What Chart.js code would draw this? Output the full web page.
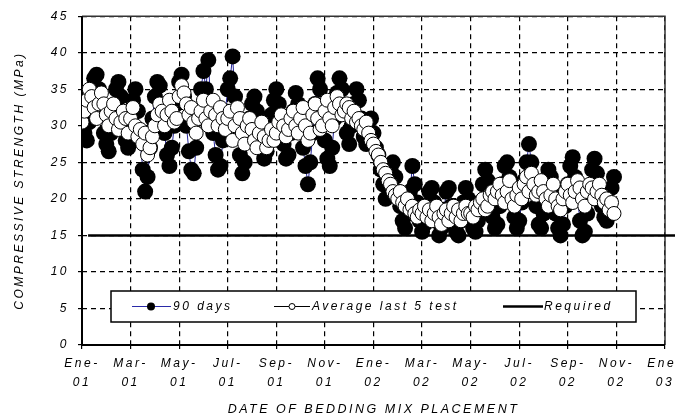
<!doctype html>
<html>
<head>
    <title>Compressive strength</title>
    <script src="https://cdn.jsdelivr.net/npm/chart.js@4.4.1/dist/chart.umd.min.js"></script>
    <style>
    body{ margin:0; background:#fff; }
    #holder{ width:675px; height:420px; }
    </style>
</head>
<body>
<div id="holder"><canvas id="chart-area"></canvas></div>
<script>
// test dates, in months since Ene-01 (about three tests a week)
var testMonths = [
    0,0.1,0.2,0.3,0.4,0.5,0.6,0.7,0.8,0.9,
    1,1.1,1.2,1.3,1.4,1.5,1.6,1.7,1.8,1.9,
    2,2.1,2.2,2.3,2.4,2.5,2.6,2.7,2.8,2.9,
    3,3.1,3.2,3.3,3.4,3.5,3.6,3.7,3.8,3.9,
    4,4.1,4.2,4.3,4.4,4.5,4.6,4.7,4.8,4.9,
    5,5.1,5.2,5.3,5.4,5.5,5.6,5.7,5.8,5.9,
    6,6.1,6.2,6.3,6.4,6.5,6.6,6.7,6.8,6.9,
    7,7.1,7.2,7.3,7.4,7.5,7.6,7.7,7.8,7.9,
    8,8.1,8.2,8.3,8.4,8.5,8.6,8.7,8.8,8.9,
    9,9.1,9.2,9.3,9.4,9.5,9.6,9.7,9.8,9.9,
    10,10.1,10.2,10.3,10.4,10.5,10.6,10.7,10.8,10.9,
    11,11.1,11.2,11.3,11.4,11.5,11.6,11.7,11.8,11.9,
    12,12.1,12.2,12.3,12.4,12.5,12.6,12.7,12.8,12.9,
    13,13.1,13.2,13.3,13.4,13.5,13.6,13.7,13.8,13.9,
    14,14.1,14.2,14.3,14.4,14.5,14.6,14.7,14.8,14.9,
    15,15.1,15.2,15.3,15.4,15.5,15.6,15.7,15.8,15.9,
    16,16.1,16.2,16.3,16.4,16.5,16.6,16.7,16.8,16.9,
    17,17.1,17.2,17.3,17.4,17.5,17.6,17.7,17.8,17.9,
    18,18.1,18.2,18.3,18.4,18.5,18.6,18.7,18.8,18.9,
    19,19.1,19.2,19.3,19.4,19.5,19.6,19.7,19.8,19.9,
    20,20.1,20.2,20.3,20.4,20.5,20.6,20.7,20.8,20.9,
    21,21.1,21.2,21.3,21.4,21.5,21.6,21.7,21.8,21.9
];
var days90 = [
    31,29,28,30.5,33.5,36.5,37,35,32,29,
    27.5,26.5,29,32,35,36,34,31,28,27,
    30,33.5,35,32,28,24,21,23,27,31,
    34,36,35.5,32,29,26,24.5,27,30,33,
    36,37,34,30,26.5,24,23.5,27,31,35,
    37.5,35,39,33,29,26,24,24.5,28,32,
    35,36.5,39.5,34,30,26,23.5,25,28,31,
    33,34,32,29.5,27,25.5,26.5,29,31.5,33.5,
    35,33,30,27.5,25.5,26,29,32,34.5,33,
    30,27,24.5,22,25,29,33,36.5,35,32,
    28,25.5,24.5,27,31,34.5,36.5,35,32,29,
    27.5,30,33,35,33.5,31,28.5,27.5,29.5,31,
    29,27,26,24,22,20,21.5,24,25,23,
    21,19,17,16,18,21,24.5,22,19.5,17,
    15.5,16.5,18.5,21,21.5,19.5,17,15,16,18.5,
    21,21.5,19,17,15.5,15,17,19.5,21.5,20,
    18,16,15.5,17,19.5,22,24,22.5,20,17.5,
    16,16.5,19,22,24.5,25,23,20,17.5,16,
    17,19.5,22.5,25,27.5,25,22,19,16.5,16,
    18,21,24,23,20.5,18,16,15,16.5,19,
    22,24.5,25.7,23,20,17,15,15.5,18,21,
    24,25.5,23.5,21,19,17.5,17,19,21.5,23
];
var avg5 = [
    30.5,32,33.5,35,34,32.5,31,33,34.5,33,
    31.5,30,32,33,31,29.5,30.5,32,31,29,
    31,32.5,30,28.5,29.5,27.5,29,26,27,28.5,
    30,31.5,33,32,30,31.5,33.5,32,30.5,31,
    34,35.5,34.5,33,31.5,32.5,30.5,29,31,32,
    33.5,31,30,32,33.5,31.5,30,32.5,31,29.5,
    31,32,28,30,32.5,31,29,27.5,30,31,
    29.5,28,27,29,30.5,28.5,27,28,29.5,28,
    29,30.5,31.5,30,28.5,29.5,31,32,30,29,
    31,32.5,30,28,29,31.5,33,31,29.5,30,
    32,33.5,31,30,32.5,34,33,31.5,32,33,
    32.5,31,32,30.5,31,30,29.5,30.5,29,28,
    27.5,26.5,26,25,24,23.5,22.5,22,21,20.5,
    20,21,19.5,19,20,18.5,19,18,17.5,18.5,
    18,19,17.5,18.5,17,18,19,17.5,16.5,18,
    18.5,17,18,19,17.5,18.5,17,18,19,18,
    18,17.5,19,18.5,19.5,20,18.5,19,20.5,21,
    20,21,22,20.5,19.5,21,22.5,20,19,20.5,
    21.5,20,22,23,21,23.5,22,20.5,21,22.5,
    21,20,19,20.5,22,20,19,18.5,20,21,
    22,20.5,19.5,21,22.5,21.5,20,19,21,22,
    21.5,20,21,22,20.5,19.5,20,18.5,19.5,18
];
var required = 15;
var tickLabels = [['Ene-','01'],['Mar-','01'],['May-','01'],['Jul-','01'],['Sep-','01'],['Nov-','01'],
    ['Ene-','02'],['Mar-','02'],['May-','02'],['Jul-','02'],['Sep-','02'],['Nov-','02'],['Ene-','03']];
var seriesNames = ['90 days', 'Average last 5 test', 'Required'];

function pts(values){
    return values.map(function(v, i){ return {x: testMonths[i], y: v}; });
}

var fam = 'Liberation Sans, Arial, sans-serif';
var font = {family: fam, size: 12, style: 'italic'};
var spacing = '2.5px';

// the old picture has wide, letter-spaced text
var spaced = {
    id: 'spaced',
    beforeUpdate: function(chart){ chart.ctx.letterSpacing = spacing; },
    beforeDraw: function(chart){ chart.ctx.letterSpacing = spacing; }
};

var legendBox = {
    id: 'legendBox',
    afterDraw: function(chart){
        var ctx = chart.ctx, a = chart.chartArea;
        var x0 = a.left + 29, y0 = a.bottom - 54, w = 525, h = 31, cy = y0 + h / 2;
        ctx.save();
        ctx.fillStyle = '#fff';
        ctx.fillRect(x0, y0, w, h);
        ctx.strokeStyle = '#000';
        ctx.lineWidth = 1.5;
        ctx.strokeRect(x0, y0, w, h);
        ctx.font = 'italic 12px ' + fam;
        ctx.letterSpacing = spacing;
        ctx.fillStyle = '#000';
        ctx.textBaseline = 'middle';
        // 90 days
        ctx.strokeStyle = '#2a2aa8'; ctx.lineWidth = 1;
        ctx.beginPath(); ctx.moveTo(x0 + 21, cy); ctx.lineTo(x0 + 60, cy); ctx.stroke();
        ctx.beginPath(); ctx.arc(x0 + 40, cy, 4, 0, Math.PI * 2); ctx.fillStyle = '#000'; ctx.fill();
        ctx.fillText(seriesNames[0], x0 + 62, cy);
        // average
        ctx.strokeStyle = '#000';
        ctx.beginPath(); ctx.moveTo(x0 + 163, cy); ctx.lineTo(x0 + 199, cy); ctx.stroke();
        ctx.beginPath(); ctx.arc(x0 + 181, cy, 3, 0, Math.PI * 2); ctx.fillStyle = '#fff'; ctx.fill(); ctx.stroke();
        ctx.fillStyle = '#000';
        ctx.fillText(seriesNames[1], x0 + 201, cy);
        // required
        ctx.lineWidth = 2.5;
        ctx.beginPath(); ctx.moveTo(x0 + 392, cy); ctx.lineTo(x0 + 432, cy); ctx.stroke();
        ctx.fillText(seriesNames[2], x0 + 433, cy);
        ctx.restore();
    }
};

var frame = {
    id: 'frame',
    beforeDatasetsDraw: function(chart){
        var ctx = chart.ctx, a = chart.chartArea;
        ctx.save();
        ctx.lineWidth = 1.5;
        ctx.strokeStyle = '#333';
        ctx.beginPath();
        ctx.moveTo(a.left, a.top); ctx.lineTo(a.right, a.top); ctx.lineTo(a.right, a.bottom);
        ctx.stroke();
        ctx.lineWidth = 2;
        ctx.strokeStyle = '#000';
        ctx.beginPath();
        ctx.moveTo(a.left, a.top); ctx.lineTo(a.left, a.bottom); ctx.lineTo(a.right, a.bottom);
        ctx.stroke();
        ctx.restore();
    }
};

var config = {
    type: 'scatter',
    data: {
        datasets: [{
            label: seriesNames[0],
            data: pts(days90),
            showLine: true,
            borderColor: '#23239a',
            borderWidth: 1,
            pointBackgroundColor: '#000',
            pointBorderColor: '#000',
            pointRadius: 8,
            pointBorderWidth: 0,
            order: 3
        },{
            label: seriesNames[1],
            data: pts(avg5),
            showLine: true,
            borderColor: '#000',
            borderWidth: 1,
            pointBackgroundColor: '#fff',
            pointBorderColor: '#000',
            pointRadius: 7,
            pointBorderWidth: 1,
            order: 2
        },{
            label: seriesNames[2],
            data: [{x: 0.25, y: required}, {x: 24.5, y: required}],
            showLine: true,
            borderColor: '#000',
            borderWidth: 2.5,
            pointRadius: 0,
            clip: {left: 0, top: 0, right: 12, bottom: 0},
            order: 1
        }]
    },
    options: {
        responsive: true,
        maintainAspectRatio: false,
        animation: false,
        layout: {padding: {top: 16, right: 10, left: 4, bottom: 0}},
        plugins: {legend: {display: false}, tooltip: {enabled: false}},
        scales: {
            x: {
                type: 'linear', min: 0, max: 24,
                afterFit: function(s){ s.height = 75; s.paddingLeft = 0; s.paddingRight = 0; },
                ticks: {
                    stepSize: 2, color: '#000', maxRotation: 0, padding: 5,
                    font: {family: fam, size: 12, style: 'italic', lineHeight: 1.6},
                    callback: function(v){ return tickLabels[v / 2]; }
                },
                grid: {color: '#000', lineWidth: 1.2, tickLength: 4},
                border: {display: false, dash: [5, 4]},
                title: {display: true, text: 'DATE OF BEDDING MIX PLACEMENT', color: '#000',
                    font: {family: fam, size: 12.5, style: 'italic'}, padding: {top: 9, bottom: 3}}
            },
            y: {
                min: 0, max: 45,
                afterFit: function(s){ s.width = 78; },
                ticks: {stepSize: 5, color: '#000', font: font, padding: 9},
                grid: {color: '#000', lineWidth: 1.2, tickLength: 4},
                border: {display: false, dash: [5, 4]},
                title: {display: true, text: 'COMPRESSIVE STRENGTH (MPa)', color: '#000', font: font, padding: {top: 8, bottom: 3}}
            }
        }
    },
    plugins: [spaced, legendBox, frame]
};

window.onload = function(){
    var ctx = document.getElementById('chart-area').getContext('2d');
    window.myChart = new Chart(ctx, config);
};
</script>
</body>
</html>
